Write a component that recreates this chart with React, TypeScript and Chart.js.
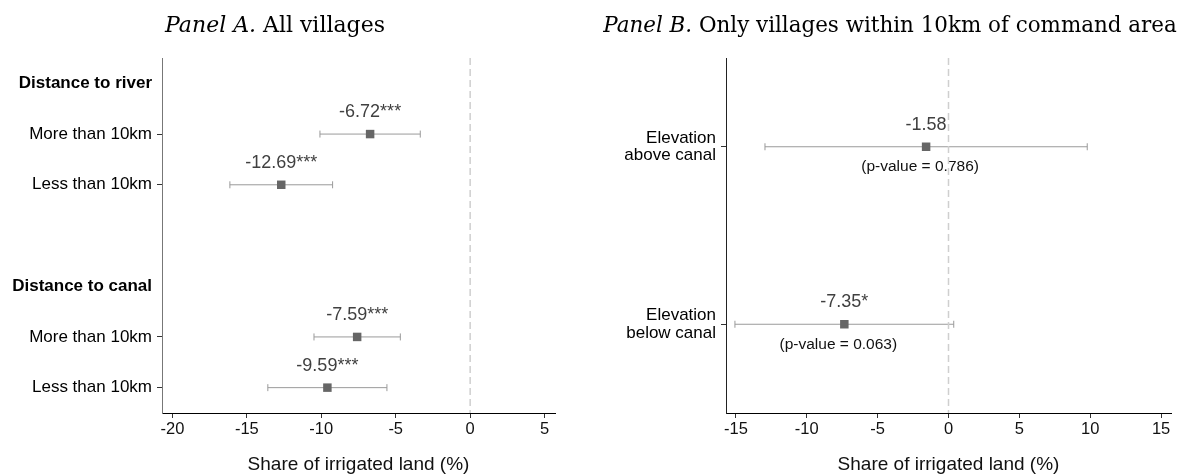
import { useEffect, useRef } from 'react';
import { Chart, registerables } from 'chart.js';

Chart.register(...registerables);

const SANS = '"Liberation Sans", Arial, Helvetica, sans-serif';
const SERIF = '"DejaVu Serif", "Liberation Serif", serif';

// ---------- Panel A data ----------
const rowLabelsA = [
  'Distance to river',
  'More than 10km',
  'Less than 10km',
  '',
  'Distance to canal',
  'More than 10km',
  'Less than 10km',
];
const headerRowsA = [0, 4];
const tickRowsA = [0, 1, 2, 4, 5, 6];
const rowPosA = [1, 2, 5, 6];
const coefA = [-6.72, -12.69, -7.59, -9.59];
const ciLowA = [-10.09, -16.14, -10.49, -13.59];
const ciHighA = [-3.35, -9.24, -4.69, -5.59];
const starsA = ['***', '***', '***', '***'];
const pValuesA: string[] = [];
const xTicksA = [-20, -15, -10, -5, 0, 5];

// ---------- Panel B data ----------
const rowLabelsB: (string | string[])[] = [
  '',
  ['Elevation', 'above canal'],
  '',
  ['Elevation', 'below canal'],
];
const headerRowsB: number[] = [];
const tickRowsB = [1, 3];
const rowPosB = [1, 3];
const coefB = [-1.58, -7.35];
const ciLowB = [-12.95, -15.07];
const ciHighB = [9.79, 0.37];
const starsB = ['', '*'];
const pValuesB = ['0.786', '0.063'];
const xTicksB = [-15, -10, -5, 0, 5, 10, 15];

type Panel = {
  rowLabels: (string | string[])[];
  headerRows: number[];
  tickRows: number[];
  rowPos: number[];
  coef: number[];
  ciLow: number[];
  ciHigh: number[];
  stars: string[];
  pValues: string[];
  xTicks: number[];
  xMin: number;
  xMax: number;
  yMin: number;
  yMax: number;
  yAxisWidth: number;
  padRight: number;
  yBorder: string;
  titleItalic: string;
  titleRest: string;
  titleCx: number;
  titleWidth: number;
};

const panelA: Panel = {
  rowLabels: rowLabelsA,
  headerRows: headerRowsA,
  tickRows: tickRowsA,
  rowPos: rowPosA,
  coef: coefA,
  ciLow: ciLowA,
  ciHigh: ciHighA,
  stars: starsA,
  pValues: pValuesA,
  xTicks: xTicksA,
  xMin: -20.7,
  xMax: 5.7,
  yMin: -0.5,
  yMax: 6.5,
  yAxisWidth: 162,
  padRight: 35,
  yBorder: '#777777',
  titleItalic: 'Panel A.',
  titleRest: ' All villages',
  titleCx: 275,
  titleWidth: 220,
};

const panelB: Panel = {
  rowLabels: rowLabelsB,
  headerRows: headerRowsB,
  tickRows: tickRowsB,
  rowPos: rowPosB,
  coef: coefB,
  ciLow: ciLowB,
  ciHigh: ciHighB,
  stars: starsB,
  pValues: pValuesB,
  xTicks: xTicksB,
  xMin: -15.7,
  xMax: 15.7,
  yMin: 0,
  yMax: 4,
  yAxisWidth: 136,
  padRight: 10,
  yBorder: '#222222',
  titleItalic: 'Panel B.',
  titleRest: ' Only villages within 10km of command area',
  titleCx: 300,
  titleWidth: 574,
};

function makeConfig(p: Panel): any {
  const datasets: any[] = [];
  // dashed zero reference line (on top)
  datasets.push({
    data: [
      { x: 0, y: p.yMin },
      { x: 0, y: p.yMax },
    ],
    showLine: true,
    borderColor: '#cfcfcf',
    borderWidth: 1.5,
    borderDash: [7, 4],
    pointRadius: 0,
    order: 0,
  });
  // markers
  datasets.push({
    data: p.coef.map((c, i) => ({ x: c, y: p.rowPos[i] })),
    pointStyle: 'rect',
    pointRadius: 6,
    pointBackgroundColor: '#666666',
    pointBorderWidth: 0,
    showLine: false,
    order: 1,
  });
  // confidence intervals
  p.coef.forEach((_, i) => {
    datasets.push({
      data: [
        { x: p.ciLow[i], y: p.rowPos[i] },
        { x: p.ciHigh[i], y: p.rowPos[i] },
      ],
      showLine: true,
      borderColor: '#9a9a9a',
      borderWidth: 1,
      pointStyle: 'line',
      pointRotation: 90,
      pointRadius: 3.5,
      pointBorderColor: '#9a9a9a',
      pointBorderWidth: 1,
      order: 2,
    });
  });

  const labelPlugin = {
    id: 'coefLabels',
    beforeDatasetsDraw(chart: any) {
      const { ctx } = chart;
      const xs = chart.scales.x;
      const ys = chart.scales.y;
      ctx.save();
      ctx.textAlign = 'center';
      ctx.textBaseline = 'middle';
      p.coef.forEach((c, i) => {
        const x = xs.getPixelForValue(c);
        const y = ys.getPixelForValue(p.rowPos[i]);
        ctx.fillStyle = '#404040';
        ctx.font = `18px ${SANS}`;
        ctx.fillText(`${c.toFixed(2)}${p.stars[i]}`, x, y - 22);
        if (p.pValues[i]) {
          ctx.fillStyle = '#111111';
          ctx.font = `15.5px ${SANS}`;
          ctx.fillText(`(p-value = ${p.pValues[i]})`, x - 6, y + 20);
        }
      });
      ctx.restore();
    },
  };

  const titlePlugin = {
    id: 'panelTitle',
    afterDraw(chart: any) {
      const { ctx } = chart;
      ctx.save();
      const base = 20;
      ctx.font = `italic ${base}px ${SERIF}`;
      const w1 = ctx.measureText(p.titleItalic).width;
      ctx.font = `${base}px ${SERIF}`;
      const w2 = ctx.measureText(p.titleRest).width;
      const size = (base * p.titleWidth) / (w1 + w2);
      ctx.font = `italic ${size}px ${SERIF}`;
      const a = ctx.measureText(p.titleItalic).width;
      ctx.font = `${size}px ${SERIF}`;
      const b = ctx.measureText(p.titleRest).width;
      const x0 = p.titleCx - (a + b) / 2;
      ctx.fillStyle = '#000';
      ctx.textBaseline = 'alphabetic';
      ctx.textAlign = 'left';
      ctx.font = `italic ${size}px ${SERIF}`;
      ctx.fillText(p.titleItalic, x0, 32);
      ctx.font = `${size}px ${SERIF}`;
      ctx.fillText(p.titleRest, x0 + a, 32);
      ctx.restore();
    },
  };

  return {
    type: 'scatter',
    data: { datasets },
    plugins: [labelPlugin, titlePlugin],
    options: {
      animation: false,
      responsive: false,
      devicePixelRatio: 1,
      events: [],
      layout: { padding: { top: 58, right: p.padRight, bottom: 0, left: 0 } },
      plugins: {
        legend: { display: false },
        tooltip: { enabled: false },
        title: { display: false },
      },
      scales: {
        x: {
          type: 'linear',
          min: p.xMin,
          max: p.xMax,
          afterBuildTicks: (s: any) => {
            s.ticks = p.xTicks.map((v) => ({ value: v }));
          },
          afterFit: (s: any) => {
            s.height = 63;
          },
          ticks: {
            callback: (v: any) => String(v),
            font: { family: SANS, size: 16.5 },
            color: '#111111',
            padding: 2,
            maxRotation: 0,
            autoSkip: false,
          },
          grid: {
            drawOnChartArea: false,
            drawTicks: true,
            tickLength: 5,
            color: '#333333',
          },
          border: { color: '#000000', width: 1 },
          title: {
            display: true,
            text: 'Share of irrigated land (%)',
            font: { family: SANS, size: 19 },
            color: '#111111',
            padding: { top: 0, bottom: 0 },
          },
        },
        y: {
          type: 'linear',
          reverse: true,
          min: p.yMin,
          max: p.yMax,
          afterBuildTicks: (s: any) => {
            s.ticks = p.tickRows.map((v) => ({ value: v }));
          },
          afterFit: (s: any) => {
            s.width = p.yAxisWidth;
          },
          ticks: {
            callback: (v: any) => p.rowLabels[v] ?? '',
            font: (ctx: any) => ({
              family: SANS,
              size: 17,
              lineHeight: 1.05,
              weight: ctx.tick && p.headerRows.includes(ctx.tick.value) ? 'bold' : 'normal',
            }),
            color: '#000000',
            padding: 5,
            autoSkip: false,
          },
          grid: {
            drawOnChartArea: false,
            drawTicks: true,
            tickLength: 5,
            color: (ctx: any) =>
              ctx.tick && p.headerRows.includes(ctx.tick.value) ? 'rgba(0,0,0,0)' : '#333333',
          },
          border: { color: p.yBorder, width: 1 },
        },
      },
    },
  };
}

function PanelChart({ panel, width, left }: { panel: Panel; width: number; left: number }) {
  const ref = useRef<HTMLCanvasElement | null>(null);
  useEffect(() => {
    if (!ref.current) return;
    const chart = new Chart(ref.current, makeConfig(panel));
    return () => chart.destroy();
  }, [panel]);
  return (
    <canvas
      ref={ref}
      width={width}
      height={476}
      style={{ position: 'absolute', left, top: 0, width, height: 476 }}
    />
  );
}

export default function App() {
  return (
    <div
      style={{
        position: 'absolute',
        left: 0,
        top: 0,
        width: 1181,
        height: 476,
        background: '#ffffff',
        overflow: 'hidden',
      }}
    >
      <PanelChart panel={panelA} width={590} left={0} />
      <PanelChart panel={panelB} width={591} left={590} />
    </div>
  );
}
